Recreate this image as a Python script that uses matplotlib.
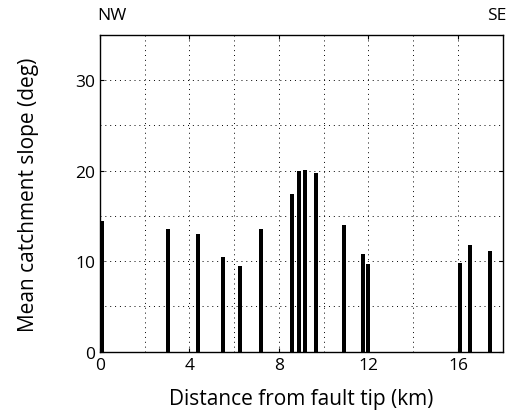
import matplotlib as mpl
import matplotlib.pyplot as plt
import numpy as np

mpl.rcParams.update(
    {
        "font.family": ["Open Sans", "DejaVu Sans"],
        "font.size": 12,
        "xtick.direction": "in",
        "ytick.direction": "in",
        "xtick.top": True,
        "ytick.right": True,
    }
)

# distance along fault (km) and mean catchment slope (deg)
distance_km = [0.08, 3.05, 4.38, 5.49, 6.26, 7.2, 8.58, 8.88, 9.18, 9.64,
               10.89, 11.74, 11.99, 16.09, 16.53, 17.44]
slope_deg = [14.4, 13.6, 13.0, 10.5, 9.5, 13.6, 17.4, 20.0, 20.1, 19.7,
             14.0, 10.8, 9.7, 9.8, 11.8, 11.1]

x_ticks = [0, 4, 8, 12, 16]
y_ticks = [0, 10, 20, 30]

fig = plt.figure(figsize=(5.08, 4.14), dpi=100)
ax = fig.add_axes([100 / 508, 1 - 352.7 / 414, 402.7 / 508, 316.7 / 414])

ax.bar(distance_km, slope_deg, width=0.18, color="black", zorder=3)

ax.set_xlim(0, 18)
ax.set_ylim(0, 35)
ax.set_xticks(np.arange(0, 19, 2), minor=True)
ax.set_yticks(np.arange(0, 36, 5), minor=True)
ax.set_xticks(x_ticks)
ax.set_yticks(y_ticks)
ax.tick_params(which="both", length=3, width=0.8, labelsize=12.5)
ax.tick_params(which="minor", length=0)
ax.grid(True, which="both", linestyle=(0, (1, 4)), linewidth=0.7, color="black")

for spine in ax.spines.values():
    spine.set_linewidth(1.0)

ax.set_xlabel("Distance from fault tip (km)", fontsize=15, labelpad=11)
ax.set_ylabel("Mean catchment slope (deg)", fontsize=15, labelpad=26)

fig.text(97 / 508, 1 - 16 / 414, "NW", fontsize=12.5, ha="left", va="center")
fig.text(506 / 508, 1 - 16 / 414, "SE", fontsize=12.5, ha="right", va="center")

fig.savefig("out.png", dpi=100, facecolor="white")
